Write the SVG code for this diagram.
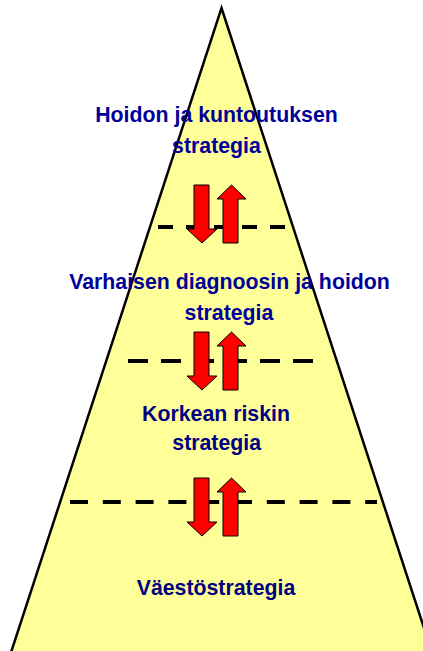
<svg xmlns="http://www.w3.org/2000/svg" width="423" height="651" viewBox="0 0 423 651">
<defs>
<style>
.lbl{font-family:"Liberation Sans",Arial,sans-serif;font-weight:bold;font-size:21.3px;text-anchor:middle}
.c1{fill:#000099}
.c2{fill:#000080}
.dash{stroke:#000;stroke-width:4;fill:none}
.arr{fill:#FF0000;stroke:#000;stroke-width:1;stroke-linejoin:miter}
</style>
<g id="arrowpair">
<polygon class="arr" points="194,0 209,0 209,44 217,44 202,58 187,44 194,44"/>
<polygon class="arr" points="231.5,0 246,14 238,14 238,58 223,58 223,14 217,14"/>
</g>
</defs>
<rect width="423" height="651" fill="#fff"/>
<g id="pyramid">
<polygon points="221.5,8 441,680 2,680" fill="#FFFF99" stroke="#000" stroke-width="2.5" stroke-linejoin="miter"/>
</g>
<g id="connectors">
<line class="dash" x1="158" y1="227" x2="286" y2="227" stroke-dasharray="15 13"/>
<line class="dash" x1="128" y1="361" x2="313" y2="361" stroke-dasharray="20 13"/>
<line class="dash" x1="70" y1="502" x2="377" y2="502" stroke-dasharray="18 14.8"/>
<use href="#arrowpair" y="185"/>
<use href="#arrowpair" y="332"/>
<use href="#arrowpair" y="478"/>
</g>
<g id="level1">
<text class="lbl c1" x="216.5" y="122">Hoidon ja kuntoutuksen</text>
<text class="lbl c1" x="216.5" y="153">strategia</text>
</g>
<g id="level2">
<text class="lbl c1" x="229.5" y="289">Varhaisen diagnoosin ja hoidon</text>
<text class="lbl c1" x="229" y="320">strategia</text>
</g>
<g id="level3">
<text class="lbl c2" x="216" y="421">Korkean riskin</text>
<text class="lbl c2" x="216.7" y="450">strategia</text>
</g>
<g id="level4">
<text class="lbl c2" x="216" y="595">Väestöstrategia</text>
</g>
</svg>
